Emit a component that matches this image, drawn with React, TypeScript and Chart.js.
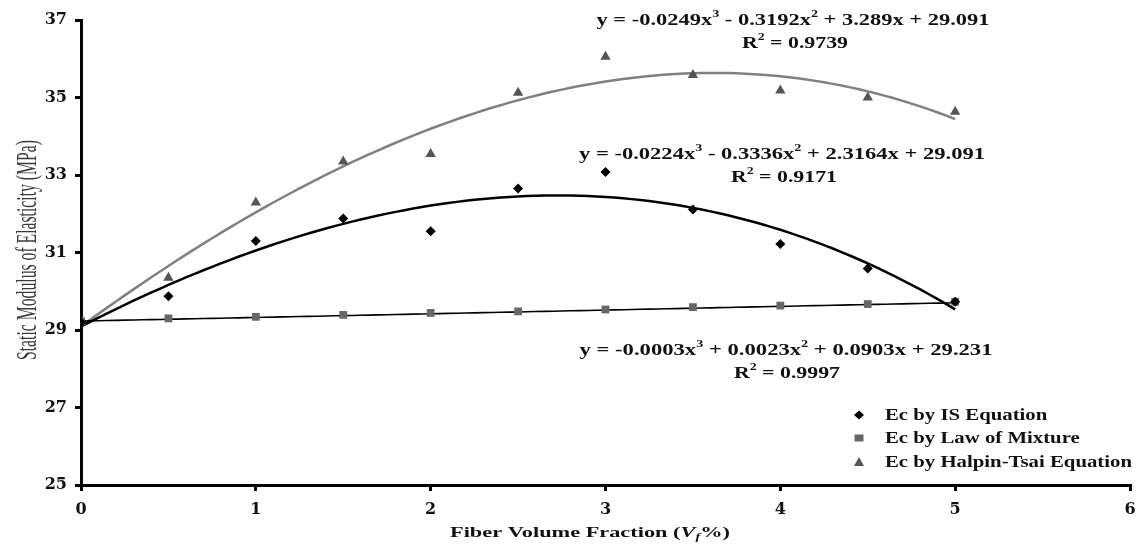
import React, { useEffect, useRef } from "react";
import { Chart, registerables } from "chart.js";

Chart.register(...registerables);

// ---- Data ----
const fiberFractions = [0, 0.5, 1, 1.5, 2, 2.5, 3, 3.5, 4, 4.5, 5];
const ecIsEquation = [29.2, 29.87, 31.3, 31.88, 31.55, 32.65, 33.08, 32.11, 31.22, 30.59, 29.73];
const ecLawOfMixture = [29.23, 29.3, 29.34, 29.39, 29.44, 29.48, 29.53, 29.59, 29.63, 29.67, 29.73];
const ecHalpinTsai = [29.2, 30.35, 32.29, 33.35, 33.54, 35.12, 36.05, 35.58, 35.18, 35.0, 34.63];

// Polynomial trendline coefficients as printed on the chart (c0 + c1 x + c2 x^2 + c3 x^3)
const trendIsCoef = [29.091, 2.3164, -0.3336, -0.0224];
const trendLomCoef = [29.231, 0.0903, 0.0023, -0.0003];
const trendHtCoef = [29.091, 3.289, -0.3192, -0.0249];

const seriesLabels = ["Ec by IS Equation", "Ec by Law of Mixture", "Ec by Halpin-Tsai Equation"];
const yAxisTitle = "Static Modulus of Elasticity (MPa)";
const xAxisTitleParts = ["Fiber Volume Fraction (", "V", "f", "%)"];

const eqHt = ["y = -0.0249x", "3", " - 0.3192x", "2", " + 3.289x + 29.091"];
const r2Ht = "0.9739";
const eqIs = ["y = -0.0224x", "3", " - 0.3336x", "2", " + 2.3164x + 29.091"];
const r2Is = "0.9171";
const eqLom = ["y = -0.0003x", "3", " + 0.0023x", "2", " + 0.0903x + 29.231"];
const r2Lom = "0.9997";

const xMin = 0, xMax = 6, xStep = 1;
const yMin = 25, yMax = 37, yStep = 2;
const trendStart = 0, trendEnd = 5, trendSamples = 101;

function trendPoints(coef: number[]) {
  const pts: { x: number; y: number }[] = [];
  for (let i = 0; i < trendSamples; i++) {
    const x = trendStart + ((trendEnd - trendStart) * i) / (trendSamples - 1);
    const y = coef[0] + coef[1] * x + coef[2] * x * x + coef[3] * x * x * x;
    pts.push({ x, y });
  }
  return pts;
}

type Part = { t: string; sup?: boolean; sub?: boolean; italic?: boolean };
type DrawOpts = {
  x: number;
  y: number;
  size: number;
  weight: string;
  family: string;
  color: string;
  align: "center" | "left";
  targetW?: number;
  sx?: number;
  rotate?: boolean;
};

function fontFor(p: Part, o: DrawOpts) {
  const sz = p.sup || p.sub ? Math.round(o.size * 0.62) : o.size;
  return `${p.italic ? "italic " : ""}${o.weight} ${sz}px ${o.family}`;
}

function drawParts(ctx: CanvasRenderingContext2D, parts: Part[], o: DrawOpts) {
  ctx.save();
  let total = 0;
  const widths = parts.map((p) => {
    ctx.font = fontFor(p, o);
    const w = ctx.measureText(p.t).width;
    total += w;
    return w;
  });
  const sx = o.sx ?? (o.targetW ? o.targetW / total : 1);
  ctx.translate(o.x, o.y);
  if (o.rotate) ctx.rotate(-Math.PI / 2);
  ctx.scale(sx, 1);
  ctx.fillStyle = o.color;
  ctx.textBaseline = "middle";
  ctx.textAlign = "left";
  let cx = o.align === "left" ? 0 : -total / 2;
  parts.forEach((p, i) => {
    ctx.font = fontFor(p, o);
    const dy = p.sup ? -o.size * 0.36 : p.sub ? o.size * 0.3 : 0;
    ctx.fillText(p.t, cx, dy);
    cx += widths[i];
  });
  ctx.restore();
}

function eqParts(eq: string[]): Part[] {
  return eq.map((t, i) => ({ t, sup: i === 1 || i === 3 }));
}
function r2Parts(v: string): Part[] {
  return [{ t: "R" }, { t: "2", sup: true }, { t: " = " + v }];
}

const SERIF = '"Liberation Serif", "Times New Roman", serif';

const annotationPlugin = {
  id: "annotations",
  afterDraw(chart: any) {
    const ctx: CanvasRenderingContext2D = chart.ctx;
    const base = { weight: "bold", family: SERIF, color: "#111", align: "center" as const, size: 17.5 };

    // Equations
    drawParts(ctx, eqParts(eqHt), { ...base, x: 793, y: 20, targetW: 393 });
    drawParts(ctx, r2Parts(r2Ht), { ...base, x: 795, y: 43, targetW: 106 });
    drawParts(ctx, eqParts(eqIs), { ...base, x: 782, y: 154, targetW: 406 });
    drawParts(ctx, r2Parts(r2Is), { ...base, x: 784, y: 177, targetW: 106 });
    drawParts(ctx, eqParts(eqLom), { ...base, x: 786, y: 350, targetW: 413 });
    drawParts(ctx, r2Parts(r2Lom), { ...base, x: 787, y: 373, targetW: 106 });

    // Axis titles
    drawParts(
      ctx,
      [
        { t: xAxisTitleParts[0] },
        { t: xAxisTitleParts[1], italic: true },
        { t: xAxisTitleParts[2], italic: true, sub: true },
        { t: xAxisTitleParts[3] },
      ],
      { ...base, size: 15.5, x: 590, y: 533, targetW: 280 }
    );
    drawParts(ctx, [{ t: yAxisTitle }], {
      ...base,
      weight: "normal",
      color: "#3a3a3a",
      size: 30,
      x: 28,
      y: 250,
      targetW: 220,
      rotate: true,
    });

    // Legend
    ctx.save();
    ctx.font = `bold 17.5px ${SERIF}`;
    const longest = Math.max(...seriesLabels.map((l) => ctx.measureText(l).width));
    ctx.restore();
    const lsx = 247 / longest;
    const rows = [415, 438, 462];
    const mx = 859;
    ctx.save();
    ctx.fillStyle = "#000";
    ctx.beginPath();
    ctx.moveTo(mx, rows[0] - 4.5);
    ctx.lineTo(mx + 5, rows[0]);
    ctx.lineTo(mx, rows[0] + 4.5);
    ctx.lineTo(mx - 5, rows[0]);
    ctx.closePath();
    ctx.fill();
    ctx.fillStyle = "#666";
    ctx.fillRect(mx - 4.5, rows[1] - 3.5, 9, 7);
    ctx.fillStyle = "#555";
    ctx.beginPath();
    ctx.moveTo(mx, rows[2] - 5);
    ctx.lineTo(mx + 5, rows[2] + 4);
    ctx.lineTo(mx - 5, rows[2] + 4);
    ctx.closePath();
    ctx.fill();
    ctx.restore();
    seriesLabels.forEach((l, i) => {
      drawParts(ctx, [{ t: l }], { ...base, align: "left", x: 885, y: rows[i], sx: lsx });
    });
  },
};

export default function App() {
  const canvasRef = useRef<HTMLCanvasElement | null>(null);

  useEffect(() => {
    if (!canvasRef.current) return;
    const toXY = (ys: number[]) => fiberFractions.map((x, i) => ({ x, y: ys[i] }));
    const chart = new Chart(canvasRef.current, {
      type: "scatter",
      data: {
        datasets: [
          {
            label: seriesLabels[0],
            data: toXY(ecIsEquation),
            pointStyle: "rectRot",
            pointRadius: 5,
            backgroundColor: "#000",
            borderColor: "#000",
            borderWidth: 0,
            showLine: false,
          },
          {
            label: seriesLabels[1],
            data: toXY(ecLawOfMixture),
            pointStyle: "rect",
            pointRadius: 5.5,
            backgroundColor: "#666",
            borderColor: "#666",
            borderWidth: 0,
            showLine: false,
          },
          {
            label: seriesLabels[2],
            data: toXY(ecHalpinTsai),
            pointStyle: "triangle",
            pointRadius: 6,
            backgroundColor: "#555",
            borderColor: "#555",
            borderWidth: 0,
            showLine: false,
          },
          {
            label: "IS trend",
            data: trendPoints(trendIsCoef),
            showLine: true,
            pointRadius: 0,
            borderColor: "#000",
            borderWidth: 2.5,
            tension: 0,
          },
          {
            label: "LoM trend",
            data: trendPoints(trendLomCoef),
            showLine: true,
            pointRadius: 0,
            borderColor: "#000",
            borderWidth: 1.6,
            tension: 0,
          },
          {
            label: "HT trend",
            data: trendPoints(trendHtCoef),
            showLine: true,
            pointRadius: 0,
            borderColor: "#808080",
            borderWidth: 2.5,
            tension: 0,
          },
        ],
      },
      options: {
        animation: false,
        responsive: true,
        maintainAspectRatio: false,
        layout: { padding: { left: 0, top: 20, right: 10, bottom: 0 } },
        plugins: {
          legend: { display: false },
          tooltip: { enabled: false },
          title: { display: false },
        },
        scales: {
          x: {
            type: "linear",
            min: xMin,
            max: xMax,
            afterFit: (s: any) => {
              s.height = 61;
              s.paddingRight = 0;
              s.paddingLeft = 0;
            },
            ticks: {
              stepSize: xStep,
              color: "#111",
              padding: 9,
              font: { family: '"DejaVu Serif", serif', weight: "bold", size: 16 },
            },
            grid: { drawOnChartArea: false, color: "#000", lineWidth: 3, tickLength: 6 },
            border: { display: true, color: "#000", width: 3 },
          },
          y: {
            type: "linear",
            min: yMin,
            max: yMax,
            afterFit: (s: any) => {
              s.width = 81;
              s.paddingTop = 0;
              s.paddingBottom = 0;
            },
            ticks: {
              stepSize: yStep,
              color: "#111",
              padding: 8,
              font: { family: '"DejaVu Serif", serif', weight: "bold", size: 16 },
            },
            grid: { drawOnChartArea: false, color: "#000", lineWidth: 3, tickLength: 6 },
            border: { display: true, color: "#000", width: 3 },
          },
        },
      },
      plugins: [annotationPlugin],
    });
    return () => chart.destroy();
  }, []);

  return (
    <div style={{ position: "absolute", left: 0, top: 0, width: 1140, height: 546, background: "#fff" }}>
      <canvas ref={canvasRef} />
    </div>
  );
}
